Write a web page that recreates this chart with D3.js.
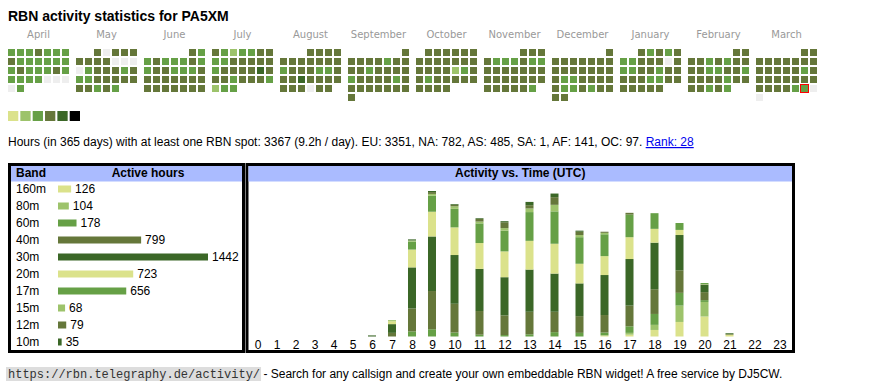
<!DOCTYPE html>
<html><head><meta charset="utf-8">
<script src="https://cdn.jsdelivr.net/npm/d3@7/dist/d3.min.js"></script>
<style>
body{margin:0;background:#fff;}
svg{display:block;}
</style></head><body>
<svg id="c" width="870" height="390"></svg>
<script>
// ---------------- DATA ----------------
const titleText = "RBN activity statistics for PA5XM";
const monthNames = ["April","May","June","July","August","September","October","November","December","January","February","March"];
const monthStarts = ["2024-04","2024-05","2024-06","2024-07","2024-08","2024-09","2024-10","2024-11","2024-12","2025-01","2025-02","2025-03"];
// activity level per day (0 = no spot, 1..6 = legend levels)
const aprLevels = [3,3,3,4,3,3,3, 4,3,3,3,3,3,3, 3,4,3,3,3,4,3, 3,3,3,3,0,0,0, 0,3];
const mayLevels = [4,0,4,4,4, 4,4,4,4,0,0,0, 0,3,4,4,4,3,4, 3,3,4,4,4,4,4, 4,4,3,4,3];
const junLevels = [4,3, 3,4,3,3,3,4,3, 3,4,4,3,3,3,4, 4,4,4,4,4,4,4, 4,4,4,4,4,4,4];
const julLevels = [4,3,2,3,3,4,4, 3,3,4,4,4,4,4, 3,4,4,4,4,5,4, 4,4,3,4,4,4,3, 2,3,3];
const augLevels = [4,4,4,4, 4,4,4,4,4,4,4, 3,4,4,4,3,3,4, 4,4,5,4,4,4,4, 4,4,4,0,4,4];
const sepLevels = [4, 4,4,4,4,3,4,4, 4,4,3,4,4,4,4, 3,4,4,4,4,3,4, 4,4,4,4,4,4,4, 4];
const octLevels = [4,4,4,4,4,4, 4,4,4,4,4,4,4, 4,4,4,4,2,3,4, 4,3,4,4,4,4,4, 4,4,4,4];
const novLevels = [4,4,4, 4,3,3,3,4,3,3, 4,4,4,4,4,4,4, 4,4,4,4,4,4,4, 4,4,4,4,4,3];
const decLevels = [4, 4,4,4,4,4,4,4, 4,4,4,4,4,4,4, 4,3,3,4,4,4,4, 4,3,3,4,3,4,4, 4,4];
const janLevels = [4,3,4,3,4, 3,3,4,4,4,0,4, 3,3,4,4,3,4,4, 4,4,4,3,3,4,4, 4,4,4,4,4];
const febLevels = [4,4, 4,4,3,4,3,4,4, 4,4,3,3,4,4,3, 4,4,4,4,3,4,4, 4,4,3,4,3];
const marLevels = [4,4, 4,4,4,4,4,4,4, 4,4,4,4,4,3,4, 4,4,4,4,4,4,4, 4,4,4,4,3,3,0, 0];
const calendarLevels = [aprLevels,mayLevels,junLevels,julLevels,augLevels,sepLevels,octLevels,novLevels,decLevels,janLevels,febLevels,marLevels];
const todayDate = "2025-03-29";
const legendLevels = [1,2,3,4,5,6];

const statsText = "Hours (in 365 days) with at least one RBN spot: 3367 (9.2h / day). EU: 3351, NA: 782, AS: 485, SA: 1, AF: 141, OC: 97. ";
const rankText = "Rank: 28";

const bands = ["160m","80m","60m","40m","30m","20m","17m","15m","12m","10m"];
const bandHours = [126,104,178,799,1442,723,656,68,79,35];

const hourLabels = ["0","1","2","3","4","5","6","7","8","9","10","11","12","13","14","15","16","17","18","19","20","21","22","23"];
const h160m = [0,0,0,0,0,0,0,0,0,0,0,0,0,0,0,0,3,5,18,40,55,5,0,0];
const h80m  = [0,0,0,0,0,0,0,0,0,0,0,0,0,0,0,0,0,5,14,45,40,0,0,0];
const h60m  = [0,0,0,0,0,0,0,0,14,20,11,5,4,6,12,10,8,18,30,35,5,0,0,0];
const h40m  = [0,0,0,0,0,0,0,10,63,105,79,65,54,62,56,46,48,57,68,62,22,2,0,0];
const h30m  = [0,0,0,0,0,0,3,24,113,150,134,116,105,116,105,90,110,128,128,97,21,2,0,0];
const h20m  = [0,0,0,0,0,0,0,8,49,68,76,71,71,79,82,54,52,60,38,14,1,0,0,0];
const h17m  = [0,0,0,0,0,0,0,0,22,44,51,54,57,79,89,73,60,62,43,19,3,0,0,0];
const h15m  = [0,0,0,0,0,0,0,3,3,5,7,5,7,10,18,6,4,0,0,0,0,0,0,0];
const h12m  = [0,0,0,0,0,0,0,0,0,5,4,7,16,9,21,9,3,5,0,0,0,0,0,0];
const h10m  = [0,0,0,0,0,0,0,0,3,3,2,2,3,9,10,3,0,0,0,0,0,0,0,0];
const hourlyByBand = [h160m,h80m,h60m,h40m,h30m,h20m,h17m,h15m,h12m,h10m];

const footerUrl = "https://rbn.telegraphy.de/activity/";
const footerText = " - Search for any callsign and create your own embeddable RBN widget! A free service by DJ5CW.";

// ---------------- STYLE ----------------
const levelColors = ["#eeeeee","#dbe28b","#9dc36b","#66a046","#65773a","#3b6727","#000000"];
const bandColors = ["#dbe28b","#9dc36b","#66a046","#65773a","#3b6727","#dbe28b","#66a046","#9dc36b","#65773a","#3b6727"];
const SANS = "'Liberation Sans', Arial, sans-serif";
const VERD = "'DejaVu Sans', Verdana, sans-serif";
const MONO = "'Liberation Mono', 'Courier New', monospace";

const svg = d3.select("#c");

// Title
svg.append("text").attr("x", 8).attr("y", 21)
  .style("font", "bold 14px " + SANS).attr("fill", "#000").text(titleText);

// ---------------- CALENDAR ----------------
const cell = 7, pitch = 9, calTop = 49;
const monthScale = d3.scaleBand().domain(monthNames).range([8, 817]).paddingInner(7/68).paddingOuter(0);

const [ty, tm, td] = todayDate.split("-").map(Number);
monthNames.forEach((name, m) => {
  const [yy, mm] = monthStarts[m].split("-").map(Number);
  const first = new Date(yy, mm - 1, 1);
  const offset = (first.getDay() + 6) % 7;
  const x0 = monthScale(name);
  svg.append("text")
    .attr("x", x0 + monthScale.bandwidth() / 2).attr("y", 38)
    .attr("text-anchor", "middle")
    .style("font", "10px " + VERD).attr("fill", "#999").text(name);
  const g = svg.append("g");
  g.selectAll("rect").data(calendarLevels[m]).join("rect")
    .attr("x", (d, i) => x0 + ((offset + i) % 7) * pitch)
    .attr("y", (d, i) => calTop + Math.floor((offset + i) / 7) * pitch)
    .attr("width", cell).attr("height", cell)
    .attr("fill", d => levelColors[d]);
  calendarLevels[m].forEach((d, i) => {
    if (yy === ty && mm === tm && i + 1 === td) {
      g.append("rect")
        .attr("x", x0 + ((offset + i) % 7) * pitch - 0.5)
        .attr("y", calTop + Math.floor((offset + i) / 7) * pitch - 0.5)
        .attr("width", cell + 1).attr("height", cell + 1)
        .attr("fill", "none").attr("stroke", "#ff0000").attr("stroke-width", 1);
    }
  });
});

// Legend
const legendScale = d3.scaleBand().domain(legendLevels).range([8, 80]).paddingInner(2/12).paddingOuter(0);
svg.append("g").selectAll("rect").data(legendLevels).join("rect")
  .attr("x", d => legendScale(d)).attr("y", 111)
  .attr("width", legendScale.bandwidth()).attr("height", 10)
  .attr("fill", d => levelColors[d]);

// Stats line
const st = svg.append("text").attr("x", 8).attr("y", 146).style("font", "12px " + SANS).attr("fill", "#000");
st.append("tspan").text(statsText);
st.append("tspan").attr("fill", "#0000ee").style("text-decoration", "underline").text(rankText);

// ---------------- BAND TABLE ----------------
const boxTop = 163, boxBottom = 353;
const tbl = { x0: 8, x1: 245 };
svg.append("rect").attr("x", tbl.x0 + 1.5).attr("y", boxTop + 1.5)
  .attr("width", tbl.x1 - tbl.x0 - 3).attr("height", boxBottom - boxTop - 3)
  .attr("fill", "#fff").attr("stroke", "#000").attr("stroke-width", 3);
svg.append("rect").attr("x", tbl.x0 + 3).attr("y", boxTop + 3)
  .attr("width", tbl.x1 - tbl.x0 - 6).attr("height", 15.5).attr("fill", "#aabbff");
svg.append("text").attr("x", 16).attr("y", 177).style("font", "bold 12px " + SANS).text("Band");
svg.append("text").attr("x", 148).attr("y", 177).attr("text-anchor", "middle").style("font", "bold 12px " + SANS).text("Active hours");

const rowY = d3.scalePoint().domain(bands).range([189, 342]);
const barW = d3.scaleLinear().domain([0, d3.max(bandHours)]).range([0, 150]);
const rows = svg.append("g").selectAll("g").data(bands).join("g");
rows.append("text").attr("x", 16).attr("y", d => rowY(d) + 4.3)
  .style("font", "12px " + SANS).attr("fill", "#000").text(d => d);
rows.append("rect").attr("x", 58).attr("y", d => rowY(d) - 3.5)
  .attr("width", (d, i) => barW(bandHours[i])).attr("height", 7)
  .attr("fill", (d, i) => bandColors[i]);
rows.append("text").attr("x", (d, i) => 58 + barW(bandHours[i]) + 4).attr("y", d => rowY(d) + 4.3)
  .style("font", "12px " + SANS).attr("fill", "#000").text((d, i) => bandHours[i]);

// ---------------- ACTIVITY CHART ----------------
const act = { x0: 245.5, x1: 795 };
svg.append("rect").attr("x", act.x0 + 1.5).attr("y", boxTop + 1.5)
  .attr("width", act.x1 - act.x0 - 3).attr("height", boxBottom - boxTop - 3)
  .attr("fill", "#fff").attr("stroke", "#000").attr("stroke-width", 3);
svg.append("rect").attr("x", act.x0 + 3).attr("y", boxTop + 3)
  .attr("width", act.x1 - act.x0 - 6).attr("height", 15.5).attr("fill", "#aabbff");
svg.append("text").attr("x", (act.x0 + act.x1) / 2).attr("y", 177).attr("text-anchor", "middle")
  .style("font", "bold 12px " + SANS).text("Activity vs. Time (UTC)");

const tableRows = hourLabels.map((h, i) => {
  const r = { hour: h };
  bands.forEach((b, k) => r[b] = hourlyByBand[k][i]);
  return r;
});
const totals = tableRows.map(r => d3.sum(bands, b => r[b]));
// column widths like an auto-sized html table (wider for 2-digit labels)
const colW = hourLabels.map((h, i) => 6 * h.length + 13 + (h.length === 1 && totals[i] > 0 ? 1 : 0));
const inner0 = 248, inner1 = 792;
const wScale = (inner1 - inner0) / d3.sum(colW);
const centers = [];
let acc = inner0;
colW.forEach(w => { centers.push(acc + w * wScale / 2); acc += w * wScale; });
const x = d3.scaleOrdinal().domain(hourLabels).range(centers);
const y = d3.scaleLinear().domain([0, d3.max(totals)]).range([336.5, 191]);

const series = d3.stack().keys(bands)(tableRows);
const barWidth = 8;
svg.append("g").selectAll("g").data(series).join("g")
  .attr("fill", (s, k) => bandColors[k])
  .selectAll("rect").data(s => s.filter(d => d[1] - d[0] > 0)).join("rect")
  .attr("x", d => x(d.data.hour) - barWidth / 2)
  .attr("width", barWidth)
  .attr("y", d => y(d[1]))
  .attr("height", d => y(d[0]) - y(d[1]));

const axis = svg.append("g").attr("transform", "translate(0,338)")
  .call(d3.axisBottom(x).tickSize(0).tickPadding(0));
axis.select(".domain").remove();
axis.selectAll("text").attr("dy", null).attr("y", 11)
  .style("font", "12px " + SANS).attr("fill", "#000");

// ---------------- FOOTER ----------------
const footG = svg.append("g");
const footBg = footG.append("rect").attr("x", 6).attr("y", 367).attr("height", 14).attr("fill", "#dddddd");
const fu = footG.append("text").attr("x", 8).attr("y", 378).style("font", "12px " + MONO).attr("fill", "#333").text(footerUrl);
const fw = fu.node().getComputedTextLength();
footBg.attr("width", fw + 3);
footG.append("text").attr("x", 8 + fw).attr("y", 378).style("font", "12px " + SANS).attr("fill", "#000")
  .attr("xml:space", "preserve").style("white-space", "pre").text(footerText);
</script>
</body></html>
